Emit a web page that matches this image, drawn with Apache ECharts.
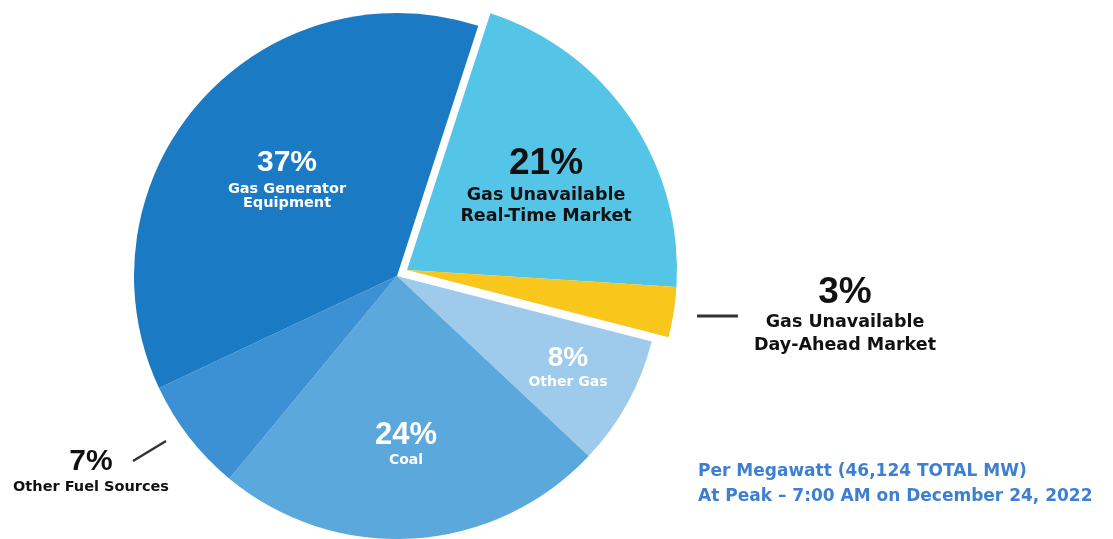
<!DOCTYPE html>
<html>
<head>
<meta charset="utf-8">
<script src="https://cdn.jsdelivr.net/npm/echarts@6/dist/echarts.min.js"></script>
<style>
html, body { margin: 0; padding: 0; background: #fff; }
#chart { width: 1113px; height: 539px; }
</style>
</head>
<body>
<div id="chart"></div>
<script>
// slices, clockwise from the top-right
var names = ['Gas Unavailable\nReal-Time Market', 'Gas Unavailable\nDay-Ahead Market', 'Other Gas', 'Coal', 'Other Fuel Sources', 'Gas Generator\nEquipment'];
var shares = [21, 3, 8, 24, 7, 37];
var pulledOut = [true, true, false, false, false, false];
var noteLines = ['Per Megawatt (46,124 TOTAL MW)', 'At Peak \u2013 7:00 AM on December 24, 2022'];

var colors = ['#55c5e7', '#f9c61c', '#9ecbec', '#5ba8dc', '#3c90d4', '#1b7ac4'];

// label placement and look, per slice
var labelSpots = [[546, 185], [845, 316], [568, 367], [406, 443], [91, 470], [287, 177]];
var labelLooks = [
	{ num: 37, numLh: 42, sub: 17.5, subLh: 21, color: '#111' },
	{ num: 37, numLh: 36, sub: 17.5, subLh: 23, color: '#111' },
	{ num: 28, numLh: 30, sub: 14, subLh: 18, color: '#fff' },
	{ num: 31, numLh: 34, sub: 14, subLh: 16, color: '#fff' },
	{ num: 30, numLh: 34, sub: 14.5, subLh: 16, color: '#111' },
	{ num: 30, numLh: 38, sub: 14.5, subLh: 14, color: '#fff' }
];

function sliceLabel(i) {
	var look = labelLooks[i];
	return {
		show: true,
		position: 'inside',
		formatter: function (p) {
			var lines = p.name.split('\n').map(function (s) { return '{n|' + s + '}'; });
			return '{p|' + p.value + '%}\n' + lines.join('\n');
		},
		rich: {
			p: { fontSize: look.num, lineHeight: look.numLh, fontWeight: 'bold', fontFamily: 'Liberation Sans', color: look.color, align: 'center' },
			n: { fontSize: look.sub, lineHeight: look.subLh, fontWeight: 'bold', fontFamily: 'DejaVu Sans', color: look.color, align: 'center' }
		}
	};
}

function buildData(outer) {
	return shares.map(function (v, i) {
		var on = pulledOut[i] === outer;
		return {
			value: v,
			name: names[i],
			itemStyle: { color: on ? colors[i] : 'rgba(0,0,0,0)' },
			label: on ? sliceLabel(i) : { show: false }
		};
	});
}

function placeLabel(params) {
	var spot = labelSpots[params.dataIndex];
	return { x: spot[0], y: spot[1], align: 'center', verticalAlign: 'middle' };
}

var myChart = echarts.init(document.getElementById('chart'));

var option = {
	animation: false,
	series: [{
		type: 'pie',
		center: [397, 276],
		radius: 263,
		startAngle: 72,
		clockwise: true,
		silent: true,
		emphasis: { disabled: true },
		labelLine: { show: false },
		labelLayout: placeLabel,
		data: buildData(false)
	}, {
		type: 'pie',
		center: [407, 270],
		radius: 270,
		startAngle: 72,
		clockwise: true,
		silent: true,
		emphasis: { disabled: true },
		labelLine: { show: false },
		labelLayout: placeLabel,
		data: buildData(true)
	}],
	graphic: [{
		type: 'line',
		shape: { x1: 697, y1: 316, x2: 738, y2: 316 },
		style: { stroke: '#333', lineWidth: 3 }
	}, {
		type: 'line',
		shape: { x1: 133, y1: 461, x2: 166, y2: 441 },
		style: { stroke: '#333', lineWidth: 2.5 }
	}, {
		type: 'text',
		left: 698,
		top: 459,
		style: {
			text: noteLines.join('\n'),
			font: 'bold 17px "DejaVu Sans"',
			lineHeight: 25,
			fill: '#3d7fd1'
		}
	}]
};

myChart.setOption(option);
</script>
</body>
</html>
